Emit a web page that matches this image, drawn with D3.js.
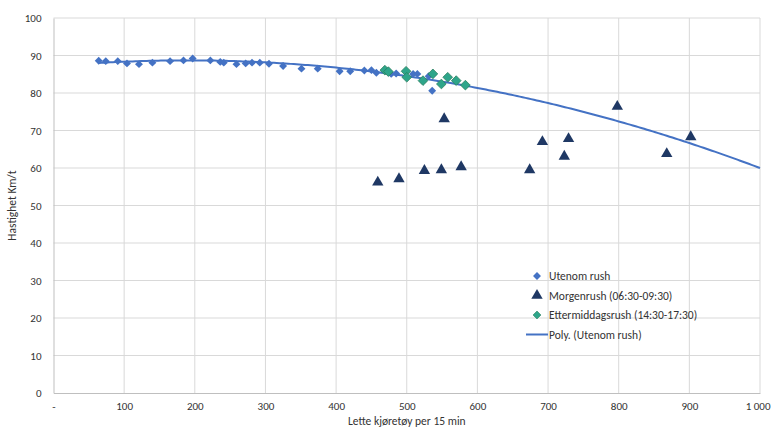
<!DOCTYPE html>
<html lang="no">
<head>
  <meta charset="UTF-8">
  <title>Hastighet mot trafikkmengde</title>
  <script src="https://d3js.org/d3.v7.min.js"></script>
  <style>
    body { margin: 0; background: #fff; }
    svg text { font-family: Carlito, "Liberation Sans Narrow", "Open Sans", sans-serif; fill: #333; }
  </style>
</head>
<body>
<div id="chart"></div>
<script>
// Utenom rush (light vehicles per 15 min, km/h)
const utenomX = [64, 74, 91, 104, 121, 140, 165, 184, 197, 222, 236, 241, 259, 272, 281, 292, 305, 325, 351, 374,
                 405, 420, 440, 450, 457, 478, 485, 509, 515, 531, 536];
const utenomY = [88.6, 88.5, 88.5, 87.9, 87.7, 88.1, 88.5, 88.7, 89.2, 88.7, 88.3, 88.1, 87.7, 87.9, 88.1, 88.1, 87.8, 87.2, 86.5, 86.5,
                 85.8, 85.8, 86.0, 86.1, 85.4, 85.1, 85.2, 85.1, 85.1, 84.5, 80.6];

// Morgenrush (06:30-09:30)
const morgenX = [459, 489, 525, 549, 553, 577, 674, 692, 723, 729, 798, 868, 902];
const morgenY = [56.2, 57.1, 59.3, 59.5, 73.1, 60.3, 59.5, 67.0, 63.1, 67.8, 76.4, 63.8, 68.3];

// Ettermiddagsrush (14:30-17:30)
const etterX = [469, 474, 499, 500, 523, 537, 549, 558, 570, 583];
const etterY = [86.1, 85.7, 85.8, 84.2, 83.3, 85.1, 82.4, 84.2, 83.3, 82.1];

// Poly. (Utenom rush) - 2nd order trendline coefficients: c0 + c1*x + c2*x^2
const trendCoef = [87.12, 0.01662, -0.00004374];
const trendRange = [64, 1000];

const xTicks = [0, 100, 200, 300, 400, 500, 600, 700, 800, 900, 1000];
const yTicks = [0, 10, 20, 30, 40, 50, 60, 70, 80, 90, 100];

const legendLabels = ["Utenom rush", "Morgenrush (06:30-09:30)", "Ettermiddagsrush (14:30-17:30)", "Poly. (Utenom rush)"];

const W = 771, H = 429;
const margin = { top: 18, right: 11, bottom: 36, left: 53.5 };
const width = W - margin.left - margin.right;
const height = H - margin.top - margin.bottom;

const blue = "#4472c4", navy = "#1f3864", green = "#2ea58a", greenEdge = "#2b7f5e";

const svg = d3.select("#chart").append("svg")
  .attr("width", W).attr("height", H);

const g = svg.append("g")
  .attr("transform", "translate(" + margin.left + "," + margin.top + ")");

const x = d3.scaleLinear().domain([0, 1000]).range([0, width]);
const y = d3.scaleLinear().domain([0, 100]).range([height, 0]);

// gridlines
g.selectAll(".hgrid").data(yTicks.slice(1)).enter().append("line")
  .attr("x1", 0).attr("x2", width)
  .attr("y1", d => y(d)).attr("y2", d => y(d))
  .attr("stroke", "#d9d9d9").attr("stroke-width", 1);
g.selectAll(".vgrid").data(xTicks.slice(1)).enter().append("line")
  .attr("x1", d => x(d)).attr("x2", d => x(d))
  .attr("y1", 0).attr("y2", height)
  .attr("stroke", "#d9d9d9").attr("stroke-width", 1);

// axes
const xAxis = d3.axisBottom(x).tickValues(xTicks).tickSize(0).tickPadding(9)
  .tickFormat(d => d === 0 ? "-" : d3.format(",")(d).replace(",", "\u00a0"));
const xg = g.append("g").attr("transform", "translate(0," + height + ")").call(xAxis);
xg.select(".domain").attr("stroke", "#bfbfbf");
xg.selectAll("text").attr("font-size", "11px").attr("fill", "#333");
// keep "1 000" inside the window
xg.selectAll(".tick").filter(d => d === 1000).select("text")
  .attr("text-anchor", "end").attr("dx", "10px");

const yAxis = d3.axisLeft(y).tickValues(yTicks).tickSize(0).tickPadding(12);
const yg = g.append("g").call(yAxis);
yg.select(".domain").attr("stroke", "#bfbfbf");
yg.selectAll("text").attr("font-size", "11px").attr("fill", "#333");

// axis titles
g.append("text")
  .attr("x", width / 2).attr("y", height + 32)
  .attr("text-anchor", "middle").attr("font-size", "11.5px")
  .text("Lette kjøretøy per 15 min");
svg.append("text")
  .attr("transform", "translate(16," + (margin.top + height / 2) + ") rotate(-90)")
  .attr("text-anchor", "middle").attr("font-size", "11.5px")
  .text("Hastighet Km/t");

// trendline
const trendXs = d3.range(trendRange[0], trendRange[1] + 1, 4);
const trend = d3.line()
  .x(d => x(d))
  .y(d => y(trendCoef[0] + trendCoef[1] * d + trendCoef[2] * d * d));
g.append("path").datum(trendXs)
  .attr("d", trend).attr("fill", "none")
  .attr("stroke", blue).attr("stroke-width", 2);

const diamondSmall = d3.symbol().type(d3.symbolDiamond2).size(40);
const diamondBig = d3.symbol().type(d3.symbolDiamond2).size(60);
const triangle = d3.symbol().type(d3.symbolTriangle).size(56);

// Utenom rush
g.selectAll(".utenom").data(utenomX).enter().append("path")
  .attr("d", diamondSmall)
  .attr("transform", (d, i) => "translate(" + x(d) + "," + y(utenomY[i]) + ")")
  .attr("fill", blue);

// Morgenrush
g.selectAll(".morgen").data(morgenX).enter().append("path")
  .attr("d", triangle)
  .attr("transform", (d, i) => "translate(" + x(d) + "," + y(morgenY[i]) + ")")
  .attr("fill", navy);

// Ettermiddagsrush
g.selectAll(".etter").data(etterX).enter().append("path")
  .attr("d", diamondBig)
  .attr("transform", (d, i) => "translate(" + x(d) + "," + y(etterY[i]) + ")")
  .attr("fill", green).attr("stroke", greenEdge).attr("stroke-width", 0.8);

// legend
const legend = svg.append("g").attr("transform", "translate(537,276)");
const rows = legend.selectAll(".row").data(legendLabels).enter().append("g")
  .attr("transform", (d, i) => "translate(0," + i * 19.5 + ")");
rows.append("text")
  .attr("x", 12).attr("y", 4).attr("font-size", "11.5px")
  .text(d => d);
rows.filter((d, i) => i === 0).append("path").attr("d", diamondSmall).attr("fill", blue);
rows.filter((d, i) => i === 1).append("path").attr("d", triangle).attr("fill", navy);
rows.filter((d, i) => i === 2).append("path").attr("d", diamondSmall)
  .attr("fill", green).attr("stroke", greenEdge).attr("stroke-width", 0.6);
rows.filter((d, i) => i === 3).append("line")
  .attr("x1", -11).attr("x2", 11).attr("y1", 0).attr("y2", 0)
  .attr("stroke", blue).attr("stroke-width", 2);
</script>
</body>
</html>
